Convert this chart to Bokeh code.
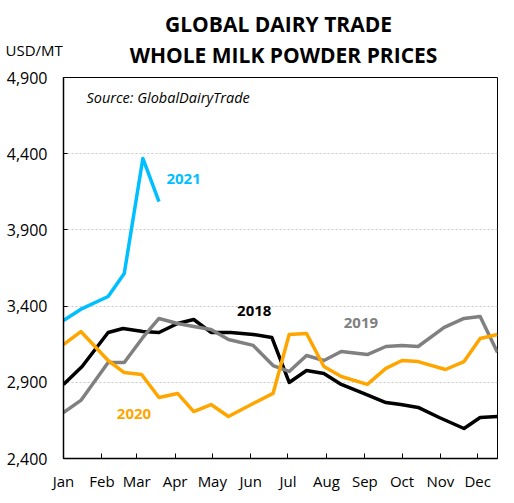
from bokeh.plotting import figure
from bokeh.layouts import column
from bokeh.models import Range1d, FixedTicker, NumeralTickFormatter, Label
from bokeh.embed import file_html
from bokeh.resources import INLINE

# x values are day-of-year of each GDT auction
months = ["Jan", "Feb", "Mar", "Apr", "May", "Jun", "Jul", "Aug", "Sep", "Oct", "Nov", "Dec"]
month_start = [0, 31, 59, 90, 120, 151, 181, 212, 243, 273, 304, 334]

days_2018 = [0, 15, 36, 48, 64, 77, 92, 105, 119, 135, 153, 168, 182, 196, 210, 224, 242, 260, 272, 286, 303, 323, 336, 350]
wmp_2018 = [2886, 3004, 3227, 3253, 3233, 3227, 3286, 3312, 3227, 3227, 3214, 3194, 2899, 2977, 2958, 2886, 2827, 2767, 2754, 2735, 2669, 2597, 2669, 2676]

days_2019 = [0, 14, 36, 49, 64, 77, 92, 105, 119, 133, 153, 169, 182, 196, 210, 224, 245, 260, 273, 286, 307, 323, 336, 350]
wmp_2019 = [2702, 2781, 3030, 3030, 3194, 3319, 3286, 3266, 3246, 3181, 3142, 3010, 2971, 3076, 3043, 3102, 3082, 3135, 3142, 3135, 3260, 3319, 3332, 3096]

days_2020 = [0, 14, 36, 49, 63, 77, 92, 105, 119, 133, 153, 169, 182, 196, 210, 224, 245, 260, 273, 286, 308, 323, 336, 350]
wmp_2020 = [3148, 3233, 3043, 2964, 2951, 2800, 2827, 2708, 2754, 2676, 2761, 2827, 3214, 3220, 3004, 2938, 2886, 2991, 3043, 3036, 2984, 3036, 3187, 3214]

days_2021 = [0, 15, 36, 49, 64, 77]
wmp_2021 = [3306, 3384, 3463, 3614, 4369, 4086]

y_ticks = [2400, 2900, 3400, 3900, 4400, 4900]

title_lines = ["GLOBAL DAIRY TRADE", "WHOLE MILK POWDER PRICES"]
unit_label = "USD/MT"

FONT = "Open Sans"
W = 506
HDR_H = 67

# ---- header strip (title + unit), its frame covers the whole strip ----
hdr = figure(width=W, height=HDR_H, output_backend="svg", toolbar_location=None,
             x_range=Range1d(0, W), y_range=Range1d(HDR_H, 0),
             x_axis_type=None, y_axis_type=None,
             min_border=0, min_border_left=0, min_border_right=0,
             min_border_top=0, min_border_bottom=0)
hdr.frame_align = False
hdr.outline_line_color = None
hdr.xgrid.grid_line_color = None
hdr.ygrid.grid_line_color = None
hdr.background_fill_color = "white"
hdr.border_fill_color = "white"

hdr.add_layout(Label(x=278, y=23, text=title_lines[0], text_font=FONT, text_font_size="21px",
                     text_font_style="bold", text_align="center", text_baseline="middle",
                     text_color="black"))
hdr.add_layout(Label(x=283, y=54, text=title_lines[1], text_font=FONT, text_font_size="21px",
                     text_font_style="bold", text_align="center", text_baseline="middle",
                     text_color="black"))
hdr.add_layout(Label(x=5, y=49, text=unit_label, text_font=FONT, text_font_size="15px",
                     text_align="left", text_baseline="middle", text_color="black"))

# ---- main chart ----
p = figure(width=W, height=428, output_backend="svg", toolbar_location=None,
           x_range=Range1d(0, 350), y_range=Range1d(2400, 4900),
           min_border_left=63, min_border_right=9, min_border_top=10, min_border_bottom=37)
p.frame_align = False
p.background_fill_color = "white"
p.border_fill_color = "white"
p.outline_line_color = "black"
p.outline_line_width = 1

p.line(days_2018, wmp_2018, line_color="black", line_width=3.5, line_join="round")
p.line(days_2019, wmp_2019, line_color="#808080", line_width=3.5, line_join="round")
p.line(days_2020, wmp_2020, line_color="#FFA500", line_width=3.5, line_join="round")
p.line(days_2021, wmp_2021, line_color="#00BFFF", line_width=3.5, line_join="round")

p.xaxis.ticker = FixedTicker(ticks=month_start)
p.xaxis.major_label_overrides = {d: m for d, m in zip(month_start, months)}
p.xaxis.major_tick_in = 5
p.xaxis.major_tick_out = 0
p.xaxis.minor_tick_line_color = None
p.xaxis.axis_line_color = "black"
p.xaxis.axis_line_width = 1.5
p.xaxis.major_tick_line_color = "black"
p.xaxis.major_label_standoff = 12
p.xaxis.major_label_text_font = FONT
p.xaxis.major_label_text_font_size = "15px"
p.xaxis.major_label_text_color = "black"

p.yaxis.ticker = FixedTicker(ticks=y_ticks)
p.yaxis.formatter = NumeralTickFormatter(format="0,0")
p.yaxis.major_tick_in = 4
p.yaxis.major_tick_out = 0
p.yaxis.minor_tick_line_color = None
p.yaxis.axis_line_color = "black"
p.yaxis.axis_line_width = 1.5
p.yaxis.major_tick_line_color = "black"
p.yaxis.major_label_standoff = 16
p.yaxis.major_label_text_font = FONT
p.yaxis.major_label_text_font_size = "16px"
p.yaxis.major_label_text_color = "black"

p.xgrid.grid_line_color = None
p.ygrid.grid_line_color = "#C8C8C8"
p.ygrid.grid_line_dash = "2 2"
p.ygrid.grid_line_width = 1

def lab(x, y, t, color="black", size="15px", style="bold"):
    p.add_layout(Label(x=x, y=y, text=t, text_color=color, text_font=FONT,
                       text_font_size=size, text_font_style=style,
                       text_align="left", text_baseline="middle"))

lab(83, 4237, "2021", color="#00BFFF")
lab(140, 3365, "2018", color="black")
lab(226, 3292, "2019", color="#808080")
lab(43, 2695, "2020", color="#FFA500")
lab(18.5, 4769, "Source: GlobalDairyTrade", size="14.5px", style="italic")

layout = column(hdr, p, spacing=0)
open("out.html", "w").write(file_html(layout, INLINE))
